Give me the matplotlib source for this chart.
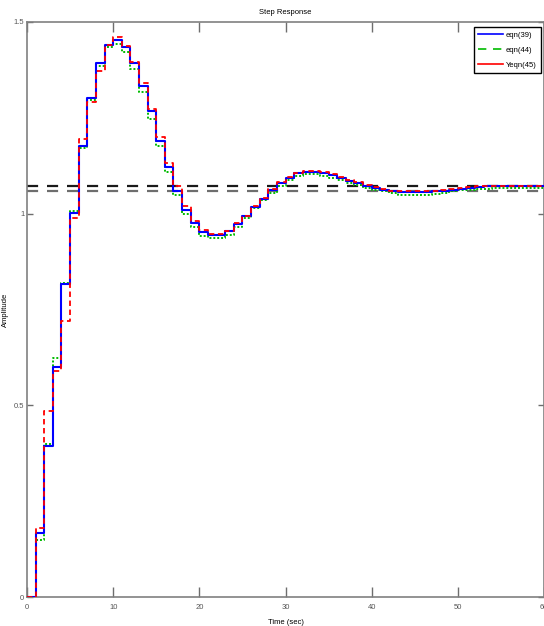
import matplotlib
matplotlib.use("Agg")
import matplotlib.pyplot as plt
from matplotlib.lines import Line2D
import numpy as np

plt.rcParams['font.family'] = ['Liberation Sans Narrow', 'Liberation Sans', 'DejaVu Sans']

# sampled step responses, T = 1 s, k = 0..60
t = np.arange(61)
eqn39 = [0, 0.168, 0.393, 0.599, 0.817, 1.003, 1.177, 1.303, 1.392, 1.440,
         1.454, 1.435, 1.392, 1.332, 1.267, 1.190, 1.121, 1.060, 1.010, 0.975,
         0.953, 0.945, 0.945, 0.954, 0.973, 0.993, 1.018, 1.038, 1.062, 1.080,
         1.094, 1.105, 1.109, 1.110, 1.107, 1.102, 1.093, 1.086, 1.079, 1.073,
         1.068, 1.062, 1.058, 1.057, 1.057, 1.057, 1.057, 1.058, 1.060, 1.062,
         1.065, 1.067, 1.069, 1.071, 1.072, 1.072, 1.073, 1.073, 1.073, 1.072,
         1.072]
eqn44 = [0, 0.148, 0.398, 0.623, 0.819, 1.007, 1.171, 1.296, 1.385, 1.435,
         1.443, 1.423, 1.378, 1.318, 1.248, 1.177, 1.108, 1.048, 1.000, 0.964,
         0.943, 0.936, 0.936, 0.945, 0.964, 0.989, 1.015, 1.036, 1.053, 1.073,
         1.088, 1.099, 1.103, 1.104, 1.099, 1.094, 1.088, 1.081, 1.076, 1.067,
         1.062, 1.058, 1.053, 1.050, 1.050, 1.050, 1.050, 1.051, 1.055, 1.058,
         1.062, 1.062, 1.064, 1.064, 1.066, 1.066, 1.066, 1.066, 1.066, 1.066,
         1.066]
yeqn45 = [0, 0.179, 0.484, 0.590, 0.720, 0.990, 1.196, 1.292, 1.371, 1.440,
          1.462, 1.438, 1.396, 1.340, 1.273, 1.199, 1.131, 1.071, 1.021, 0.980,
          0.958, 0.947, 0.947, 0.956, 0.975, 0.995, 1.021, 1.041, 1.064, 1.082,
          1.096, 1.105, 1.111, 1.112, 1.108, 1.103, 1.096, 1.089, 1.082, 1.076,
          1.070, 1.064, 1.060, 1.058, 1.058, 1.058, 1.058, 1.060, 1.062, 1.065,
          1.068, 1.069, 1.071, 1.073, 1.073, 1.073, 1.073, 1.073, 1.073, 1.073,
          1.073]
final_values = [1.071, 1.060]

fig = plt.figure(figsize=(5.44, 6.26), dpi=100)
ax = fig.add_axes([27 / 544, 29 / 626, 517 / 544, 575 / 626])

# steady-state reference lines
ax.axhline(final_values[0], color='#1a1a1a', ls=(0, (5, 4)), lw=1.6, zorder=1)
ax.axhline(final_values[1], color='#6e6e6e', ls=(0, (5, 4)), lw=1.6, zorder=1)

ax.step(t, eqn39, where='post', color='#0000ff', lw=1.5, zorder=3)
ax.step(t, eqn44, where='post', color='#00bb00', lw=1.4, ls=(0, (1, 1)), zorder=2)
ax.step(t, yeqn45, where='post', color='#ff0000', lw=1.3, ls=(0, (3, 2)), zorder=4)

ax.set_xlim(0, 60)
ax.set_ylim(0, 1.5)
ax.set_xticks([0, 10, 20, 30, 40, 50, 60])
ax.set_yticks([0, 0.5, 1, 1.5])
ax.set_yticklabels(['0', '0.5', '1', '1.5'])
ax.tick_params(axis='both', direction='in', top=True, right=True,
               labelsize=5.5, colors='#6e6e6e', labelcolor='#555555', width=1)
ax.tick_params(axis='x', length=7, pad=5)
ax.tick_params(axis='y', length=4, pad=2)
for s in ax.spines.values():
    s.set_color('#808080')
    s.set_linewidth(1.2)

ax.set_title('Step Response', fontsize=5.5, pad=6)
ax.set_xlabel('Time (sec)', fontsize=5.5)
ax.set_ylabel('Amplitude', fontsize=5.5)
ax.xaxis.set_label_coords(0.5, -0.038)
ax.yaxis.set_label_coords(-0.035, 0.5)

handles = [Line2D([], [], color='#0000ff', lw=1.2),
           Line2D([], [], color='#00bb00', lw=1.2, ls=(0, (5, 4))),
           Line2D([], [], color='#ff0000', lw=1.2)]
leg = ax.legend(handles, ['eqn(39)', 'eqn(44)', 'Yeqn(45)'],
                loc='upper right', bbox_to_anchor=(541 / 544, 1 - 27 / 626),
                bbox_transform=fig.transFigure, fontsize=5.5, fancybox=False,
                framealpha=1, edgecolor='black', handlelength=3.2,
                borderpad=0.6, labelspacing=1.0, handletextpad=0.4,
                borderaxespad=0)
leg.get_frame().set_linewidth(1.0)

fig.savefig('out.png', dpi=100)
